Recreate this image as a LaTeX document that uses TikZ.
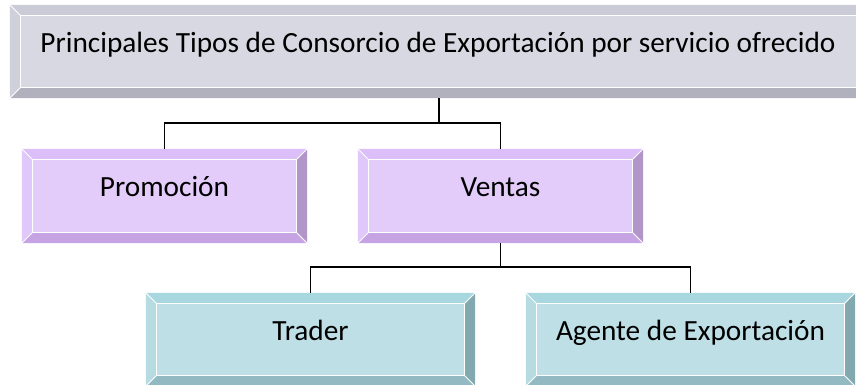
\documentclass[tikz,border=0pt]{standalone}
\usepackage{fontspec}
\setmainfont{Carlito}
\definecolor{gF}{HTML}{D8D8E2}\definecolor{gT}{HTML}{CBCBD7}\definecolor{gL}{HTML}{D0D0DA}\definecolor{gR}{HTML}{B8B8C4}\definecolor{gB}{HTML}{B1B1BE}
\definecolor{pF}{HTML}{E3CCFA}\definecolor{pT}{HTML}{DCBEF8}\definecolor{pL}{HTML}{E0C8FA}\definecolor{pR}{HTML}{B296CA}\definecolor{pB}{HTML}{C6A4E4}
\definecolor{tF}{HTML}{BDDFE5}\definecolor{tT}{HTML}{A9D7DF}\definecolor{tL}{HTML}{B6DCE2}\definecolor{tR}{HTML}{83A9B0}\definecolor{tB}{HTML}{93BAC3}
\def\Bv{10.5}
\newcommand\bevel[2]{%
 \fill[#2T] (#1.north west) -- (#1.north east) -- ([shift={(-\Bv,\Bv)}]#1.north east) -- ([shift={(\Bv,\Bv)}]#1.north west) -- cycle;
 \fill[#2R] (#1.north east) -- (#1.south east) -- ([shift={(-\Bv,-\Bv)}]#1.south east) -- ([shift={(-\Bv,\Bv)}]#1.north east) -- cycle;
 \fill[#2B] (#1.south east) -- (#1.south west) -- ([shift={(\Bv,-\Bv)}]#1.south west) -- ([shift={(-\Bv,-\Bv)}]#1.south east) -- cycle;
 \fill[#2L] (#1.south west) -- (#1.north west) -- ([shift={(\Bv,\Bv)}]#1.north west) -- ([shift={(\Bv,-\Bv)}]#1.south west) -- cycle;
 \draw[white,line width=1pt] ([shift={(\Bv,\Bv)}]#1.north west) rectangle ([shift={(-\Bv,-\Bv)}]#1.south east);
 \draw[white,line width=1pt] (#1.north west) -- ([shift={(\Bv,\Bv)}]#1.north west)
   (#1.north east) -- ([shift={(-\Bv,\Bv)}]#1.north east)
   (#1.south east) -- ([shift={(-\Bv,-\Bv)}]#1.south east)
   (#1.south west) -- ([shift={(\Bv,-\Bv)}]#1.south west);
}
\tikzset{box/.style={rectangle,inner sep=0pt,draw=none},
 lbl/.style={anchor=base,inner sep=0pt,font=\fontsize{29.3}{34}\selectfont},
 conn/.style={draw=black,line width=1.3pt}}
\begin{document}
\begin{tikzpicture}[x=1pt,y=-1pt]
\useasboundingbox (0,0) rectangle (856,385);
\node[box,fill=gF,minimum width=866,minimum height=93] (top) at (443,51.5) {};
\bevel{top}{g}
\node[lbl] (topt) at (438,53) {Principales Tipos de Consorcio de Exportación por servicio ofrecido};
\node[box,fill=pF,minimum width=285,minimum height=94] (prom) at (164.5,196) {};
\bevel{prom}{p}
\node[lbl] (promt) at (164.5,196.5) {Promoción};
\node[box,fill=pF,minimum width=285,minimum height=94] (vent) at (500.5,196) {};
\bevel{vent}{p}
\node[lbl] (ventt) at (500.5,196.5) {Ventas};
\node[box,fill=tF,minimum width=329,minimum height=93] (trad) at (310.5,339.5) {};
\bevel{trad}{t}
\node[lbl] (tradt) at (310.5,340) {Trader};
\node[box,fill=tF,minimum width=329,minimum height=93] (agen) at (690.5,339.5) {};
\bevel{agen}{t}
\node[lbl] (agent) at (690.5,340) {Agente de Exportación};
\draw[conn] ([xshift=-4]top.south) -- ([xshift=-4]top.south |- 0,123);
\draw[conn] (prom.north) -- (prom.north |- 0,123) -| (vent.north);
\draw[conn] (vent.south) -- (vent.south |- 0,267);
\draw[conn] (trad.north) -- (trad.north |- 0,267) -| (agen.north);
\end{tikzpicture}
\end{document}
